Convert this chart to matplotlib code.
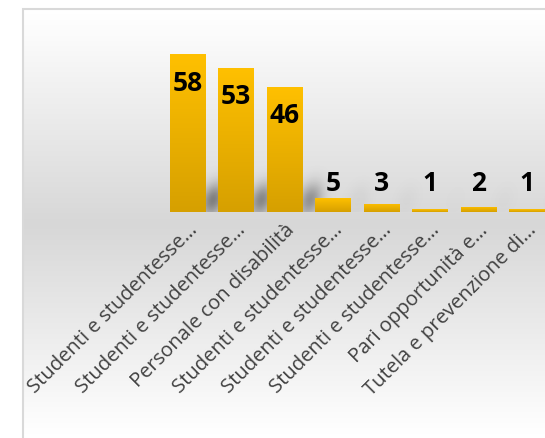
import numpy as np
import matplotlib
matplotlib.use("Agg")
import matplotlib.pyplot as plt
from matplotlib.patches import Rectangle
from matplotlib.colors import LinearSegmentedColormap

# data
categories = [
    "Studenti e studentesse…",
    "Studenti e studentesse…",
    "Personale con disabilità",
    "Studenti e studentesse…",
    "Studenti e studentesse…",
    "Studenti e studentesse…",
    "Pari opportunità e…",
    "Tutela e prevenzione di…",
]
values = [58, 53, 46, 5, 3, 1, 2, 1]

W, H = 545, 438
fig = plt.figure(figsize=(W / 100, H / 100), dpi=100)

# chart area background: white -> grey -> white
bg = fig.add_axes([22 / W, 0, 1, (H - 8) / H])
bg.set_axis_off()
ypx = np.linspace(8, H, 400)
d = np.clip(np.abs(ypx - 224) / 210, 0, 1)
g = ((255 - 40 * (1 - d)) / 255).reshape(-1, 1)
bg.imshow(np.dstack([g, g, g]), aspect="auto", extent=[0, 1, 0, 1])
bg.set_xlim(0, 1)
bg.set_ylim(0, 1)

# chart border
fig.patches.append(Rectangle((22.5 / W, -0.1), 1.2, (H - 8.5) / H + 0.1,
                             transform=fig.transFigure, fill=False,
                             edgecolor="#d9d9d9", lw=1.5))

ax = fig.add_axes([163 / W, (H - 212) / H, (551 - 163) / W, 190.4 / H])
ax.patch.set_alpha(0)
x = np.arange(len(values))

# soft shadows behind the bars
sx = np.linspace(-0.5, 7.5, 400)
sy = np.linspace(0, 20, 200)
SX, SY = np.meshgrid(sx, sy)
alpha = np.zeros_like(SX)
for i, v in zip(x, values):
    a = 0.42 * v / max(values)
    alpha += a * np.exp(-((SX - (i + 0.47 + 0.012 * SY)) ** 2) / (2 * 0.17 ** 2)
                        - ((SY - 4.5) ** 2) / (2 * 4.2 ** 2))
shadow = np.zeros(SX.shape + (4,))
shadow[..., 3] = np.clip(alpha, 0, 1)
ax.imshow(shadow, extent=[-0.5, 7.5, 0, 20], origin="lower",
          aspect="auto", zorder=1)

bars = ax.bar(x, values, width=0.73, color="#FFC000", zorder=2)
cmap = LinearSegmentedColormap.from_list("gold", ["#D6A000", "#FFC000"])
grad = np.linspace(0, 1, 100).reshape(-1, 1)
for b in bars:
    im = ax.imshow(grad, cmap=cmap, origin="lower", aspect="auto",
                   extent=[b.get_x(), b.get_x() + b.get_width(), 0, b.get_height()],
                   zorder=3)
    im.set_clip_path(b)

for i, v in zip(x, values):
    ax.text(i, max(v - 10.7, 10.3), str(v), ha="center", va="center",
            fontsize=19, fontweight="bold", family="Open Sans", color="black",
            zorder=4)

ax.set_xlim(-0.5, 7.5)
ax.set_ylim(0, 70)
ax.set_yticks([])
ax.set_xticks(x)
ax.set_xticklabels(categories, rotation=45, ha="right", rotation_mode="anchor",
                   fontsize=14.5, family="Open Sans", color="#404040")
ax.tick_params(axis="x", length=0, pad=6)
for s in ax.spines.values():
    s.set_visible(False)

fig.savefig("out.png", dpi=100)
